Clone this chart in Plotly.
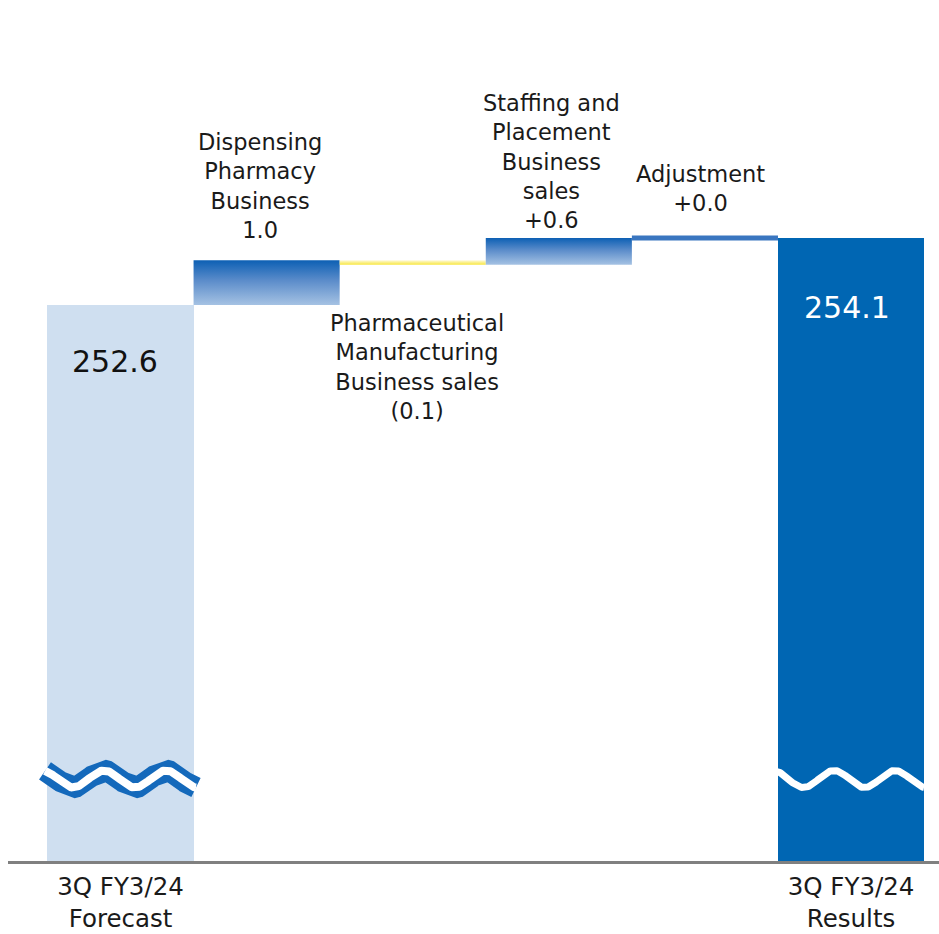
import numpy as np
import plotly.graph_objects as go

# Bridge from the 3Q FY3/24 forecast to results (billions of yen)
start_label = "3Q FY3/24<br>Forecast"
end_label = "3Q FY3/24<br>Results"
start_value = 252.6
end_value = 254.1

step_names = [
    "Dispensing<br>Pharmacy<br>Business",
    "Pharmaceutical<br>Manufacturing<br>Business sales",
    "Staffing and<br>Placement<br>Business<br>sales",
    "Adjustment",
]
step_values = [1.0, -0.1, 0.6, 0.0]
step_texts = ["1.0", "(0.1)", "+0.6", "+0.0"]

FONT = "DejaVu Sans"
LIGHT = "#cfdff0"
DARK = "#0066b3"
BLUE_GRAD = [[0, "#a5c2e3"], [0.55, "#5b8cca"], [1, "#0d60b4"]]
YELLOW_GRAD = [[0, "#f8e63c"], [1, "#fdf9d6"]]

fig = go.Figure()

# Start and end totals (broken axis: bars begin at the axis floor)
y_floor = 240.15
fig.add_trace(go.Bar(x=[0], y=[start_value - y_floor], base=[y_floor], width=1.0,
                     marker=dict(color=LIGHT, line=dict(width=0)), showlegend=False))
fig.add_trace(go.Bar(x=[5], y=[end_value - y_floor], base=[y_floor], width=1.0,
                     marker=dict(color=DARK, line=dict(width=0)), showlegend=False))

# Floating steps with vertical gradient fill
level = start_value
for i, v in enumerate(step_values):
    xi = i + 1
    lo, hi = sorted([level, level + v])
    grad = YELLOW_GRAD if v < 0 else BLUE_GRAD
    if hi - lo > 0:
        fig.add_trace(go.Scatter(
            x=[xi - 0.5, xi + 0.5, xi + 0.5, xi - 0.5, xi - 0.5],
            y=[lo, lo, hi, hi, lo],
            mode="lines", line=dict(width=0), fill="toself",
            fillgradient=dict(type="vertical", colorscale=grad),
            hoverinfo="skip", showlegend=False))
    else:
        fig.add_trace(go.Scatter(
            x=[xi - 0.5, xi + 0.5], y=[hi, hi], mode="lines",
            line=dict(color="#3a76c0", width=5),
            hoverinfo="skip", showlegend=False))
    level += v

# Axis-break waves, drawn on a pixel-unit overlay
def wave(x0, x1, phase, period, yc, amp):
    xs = np.linspace(x0, x1, 200)
    return xs, yc - amp * np.cos(2 * np.pi * (xs - phase) / period)

wx, wy = wave(45, 196, 42, 62, 779, 8.5)
fig.add_trace(go.Scatter(x=wx, y=wy, xaxis="x2", yaxis="y2", mode="lines",
                         line=dict(color="#1469bb", width=21), hoverinfo="skip", showlegend=False))
fig.add_trace(go.Scatter(x=wx, y=wy, xaxis="x2", yaxis="y2", mode="lines",
                         line=dict(color="white", width=8), hoverinfo="skip", showlegend=False))
wx, wy = wave(773, 924, 773, 61, 779, 8.5)
fig.add_trace(go.Scatter(x=wx, y=wy, xaxis="x2", yaxis="y2", mode="lines",
                         line=dict(color="white", width=7), hoverinfo="skip", showlegend=False))

annotations = []
# Step labels
label_pos = [(260, 186), (417, 367), (551, 161), (700, 188)]
for (px, py), name, txt in zip(label_pos, step_names, step_texts):
    annotations.append(dict(x=px, y=py, xref="x2", yref="y2", text=f"{name}<br>{txt}",
                            showarrow=False, font=dict(family=FONT, size=22.5, color="#1a1a1a"),
                            xanchor="center", yanchor="middle", align="center"))
# Totals
annotations.append(dict(x=115, y=361, xref="x2", yref="y2", text=f"{start_value:.1f}",
                        showarrow=False, font=dict(family=FONT, size=30, color="#111111")))
annotations.append(dict(x=847, y=307, xref="x2", yref="y2", text=f"{end_value:.1f}",
                        showarrow=False, font=dict(family=FONT, size=30, color="white")))

fig.update_layout(
    width=939, height=934,
    margin=dict(l=8, r=0, t=0, b=73),
    paper_bgcolor="white", plot_bgcolor="white",
    bargap=0,
    xaxis=dict(range=[-0.770, 5.602], tickvals=[0, 5], ticktext=[start_label, end_label],
               showgrid=False, zeroline=False, showline=True, linecolor="#808080", linewidth=3,
               ticks="", ticklabelstandoff=2, automargin=False,
               tickfont=dict(family=FONT, size=24.5, color="#1a1a1a")),
    yaxis=dict(range=[y_floor, 259.43], visible=False, showgrid=False, zeroline=False,
               automargin=False),
    xaxis2=dict(range=[8, 939], overlaying="x", visible=False),
    yaxis2=dict(range=[861, 0], overlaying="y", visible=False),
    annotations=annotations,
)

fig.write_html("out.html")
